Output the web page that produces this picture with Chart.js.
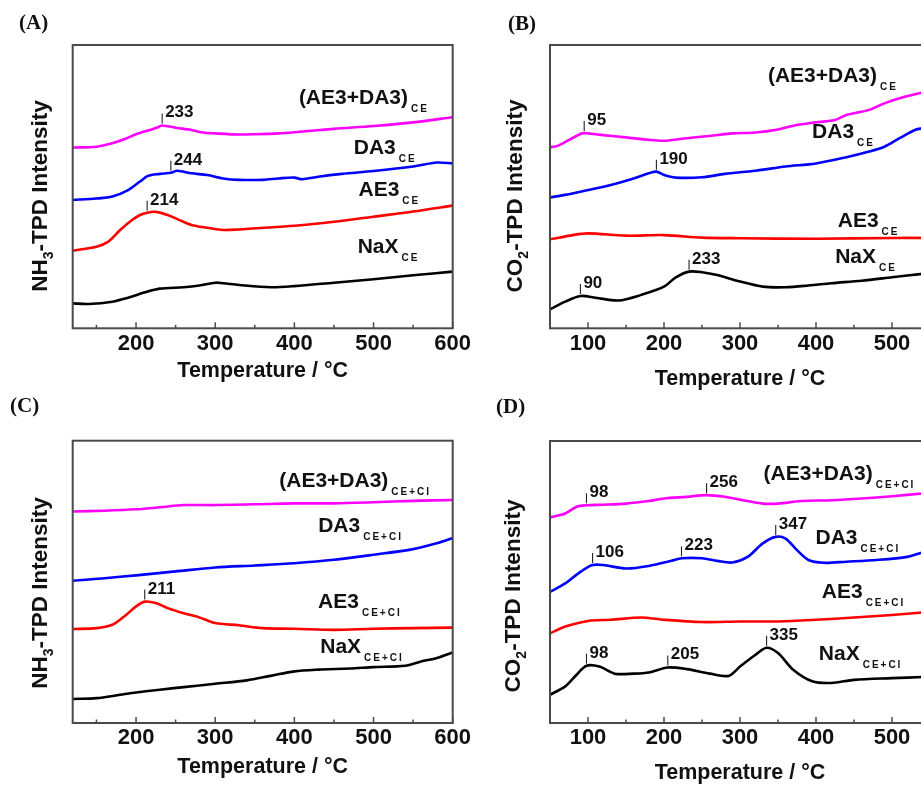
<!DOCTYPE html>
<html>
<head>
<meta charset="utf-8">
<script src="https://cdn.jsdelivr.net/npm/chart.js@4.4.1/dist/chart.umd.min.js"></script>
<style>
  html, body { margin: 0; padding: 0; background: #fff; }
  body { position: relative; width: 921px; height: 785px; overflow: hidden; }
  canvas { position: absolute; display: block; }
</style>
</head>
<body>
<canvas id="cA" width="490" height="390" style="left:0;top:0"></canvas>
<canvas id="cB" width="480" height="392" style="left:460px;top:0"></canvas>
<canvas id="cC" width="490" height="395" style="left:0;top:390px"></canvas>
<canvas id="cD" width="480" height="396" style="left:460px;top:390px"></canvas>
<script>
// sample names, top to bottom
const sampleNames = ['(AE3+DA3)', 'DA3', 'AE3', 'NaX'];
const seriesColors = ['#ff00ff', '#0000ff', '#ff0000', '#000000'];

// (A) NH3-TPD, CE samples
const aMixT = [120, 150, 170, 185, 200, 215, 228, 233, 250, 270, 285, 300, 330, 350, 380, 400, 450, 500, 550, 600];
const aMixY = [63.8, 64.1, 65.3, 66.7, 68.5, 69.8, 71.0, 71.6, 70.8, 70.0, 69.1, 68.8, 68.4, 68.5, 68.8, 69.2, 70.4, 71.4, 72.7, 74.5];
const aDaT = [120, 150, 170, 190, 205, 215, 230, 244, 252, 270, 290, 310, 330, 360, 380, 400, 410, 430, 460, 500, 550, 580, 600];
const aDaY = [45.3, 45.8, 46.5, 48.8, 51.8, 53.8, 54.5, 54.9, 55.6, 54.7, 54.1, 52.9, 52.4, 52.4, 52.9, 53.2, 52.6, 53.5, 54.5, 55.5, 57.1, 58.5, 58.2];
const aAeT = [120, 150, 165, 180, 195, 205, 214, 225, 240, 255, 270, 290, 310, 330, 350, 400, 450, 500, 550, 600];
const aAeY = [27.4, 28.8, 30.6, 34.7, 38.2, 40.0, 40.8, 41.1, 40.0, 38.2, 36.5, 35.5, 34.7, 34.9, 35.3, 36.2, 37.6, 39.4, 41.2, 43.3];
const aNaT = [120, 140, 170, 190, 210, 230, 260, 280, 300, 310, 330, 370, 400, 450, 500, 550, 600];
const aNaY = [8.8, 8.6, 9.4, 10.8, 12.6, 14.0, 14.5, 15.1, 16.1, 15.9, 15.3, 14.5, 14.9, 16.1, 17.3, 18.7, 20.0];

// (B) CO2-TPD, CE samples
const bMixT = [50, 60, 75, 90, 95, 100, 120, 150, 180, 200, 230, 260, 290, 320, 350, 370, 400, 425, 440, 470, 490, 510, 540, 550];
const bMixY = [63.9, 64.4, 66.5, 68.6, 68.9, 68.8, 68.2, 67.4, 66.5, 66.2, 67.1, 67.9, 68.8, 69.1, 70.2, 71.5, 72.7, 73.5, 75.3, 77.1, 79.4, 81.2, 83.2, 83.6];
const bDaT = [50, 70, 100, 130, 160, 180, 190, 200, 215, 250, 280, 320, 360, 400, 440, 470, 490, 510, 530, 540, 550];
const bDaY = [46.2, 47.1, 48.8, 50.6, 52.9, 54.7, 55.3, 54.1, 53.2, 53.3, 54.5, 55.6, 57.1, 58.2, 60.4, 62.4, 64.1, 67.1, 70.0, 70.6, 70.8];
const bAeT = [50, 80, 100, 150, 200, 250, 300, 400, 500, 550];
const bAeY = [31.4, 32.9, 33.5, 32.7, 32.9, 32.0, 31.8, 31.6, 31.9, 31.9];
const bNaT = [50, 70, 90, 110, 140, 170, 200, 215, 233, 250, 270, 300, 330, 360, 390, 420, 460, 500, 540, 550];
const bNaY = [6.7, 9.4, 11.4, 10.8, 9.8, 11.8, 14.7, 17.9, 20.0, 19.8, 18.8, 16.5, 14.7, 14.5, 15.1, 15.9, 16.8, 18.0, 19.2, 19.4];

// (C) NH3-TPD, CE+CI samples
const cMixT = [120, 160, 200, 230, 260, 300, 350, 400, 450, 500, 550, 600];
const cMixY = [74.9, 75.2, 75.7, 76.4, 77.2, 77.2, 77.5, 77.8, 77.8, 78.2, 78.7, 79.0];
const cDaT = [120, 160, 200, 250, 300, 350, 400, 450, 500, 550, 580, 600];
const cDaY = [50.4, 51.3, 52.3, 53.7, 55.1, 55.8, 56.6, 57.8, 59.6, 61.6, 63.7, 65.5];
const cAeT = [120, 150, 170, 185, 200, 211, 225, 240, 260, 280, 300, 330, 360, 400, 450, 500, 550, 600];
const cAeY = [33.3, 33.6, 34.8, 37.7, 41.3, 43.0, 42.5, 40.7, 38.9, 37.4, 35.4, 34.6, 33.6, 33.4, 33.0, 33.4, 33.6, 33.8];
const cNaT = [120, 150, 180, 200, 230, 260, 300, 340, 370, 400, 430, 470, 500, 540, 560, 580, 600];
const cNaY = [8.5, 8.8, 10.0, 10.8, 11.8, 12.7, 13.9, 15.1, 16.7, 18.3, 18.9, 19.3, 19.8, 20.3, 21.8, 23.0, 25.0];

// (D) CO2-TPD, CE+CI samples
const dMixT = [50, 70, 85, 98, 120, 150, 180, 200, 230, 256, 280, 310, 330, 350, 380, 420, 460, 500, 540, 550];
const dMixY = [72.9, 74.3, 76.7, 77.2, 77.4, 77.8, 78.7, 79.6, 80.2, 80.8, 80.2, 78.7, 77.8, 77.8, 78.7, 79.0, 79.6, 80.4, 81.4, 81.6];
const dDaT = [50, 70, 90, 106, 120, 150, 180, 210, 223, 250, 270, 290, 310, 330, 347, 360, 375, 390, 410, 440, 480, 520, 540, 550];
const dDaY = [46.5, 49.5, 53.6, 56.0, 56.0, 54.8, 55.7, 57.5, 58.4, 58.4, 57.5, 56.9, 58.9, 63.7, 66.0, 65.4, 61.3, 57.8, 56.8, 57.2, 57.8, 58.9, 60.5, 61.0];
const dAeT = [50, 70, 100, 130, 170, 200, 250, 300, 350, 400, 450, 500, 540, 550];
const dAeY = [31.8, 34.2, 36.2, 36.6, 37.4, 36.6, 35.8, 36.0, 36.0, 36.6, 37.4, 38.3, 39.2, 39.4];
const dNaT = [50, 70, 85, 98, 115, 135, 160, 180, 205, 230, 260, 285, 300, 320, 335, 350, 370, 395, 420, 450, 500, 540, 550];
const dNaY = [10.0, 13.0, 17.1, 20.3, 20.0, 17.5, 17.5, 17.9, 19.7, 19.1, 17.5, 16.7, 20.0, 24.1, 26.7, 24.8, 18.9, 14.8, 14.2, 15.3, 15.9, 16.3, 16.4];

// peak maxima marked on the curves: [series index, temperature]
const peaksA = [[0, 233], [1, 244], [2, 214]];
const peaksB = [[0, 95], [1, 190], [3, 233], [3, 90]];
const peaksC = [[2, 211]];
const peaksD = [[0, 98], [0, 256], [1, 106], [1, 223], [1, 347], [3, 98], [3, 205], [3, 335]];

// x-axis ticks (majors every 100 are labelled)
const ticksNH3 = [150, 200, 250, 300, 350, 400, 450, 500, 550, 600];
const ticksCO2 = [100, 150, 200, 250, 300, 350, 400, 450, 500, 550];

Chart.defaults.font.family = '"Liberation Sans", Arial, sans-serif';
Chart.defaults.color = '#111';

const SANS = '"Liberation Sans", Arial, sans-serif';

// text with a lowered subscript part
function drawWithSub(ctx, main, sub, x, y, size, subSize, subDrop, spacing) {
  ctx.font = 'bold ' + size + 'px ' + SANS;
  ctx.letterSpacing = '0px';
  ctx.fillText(main, x, y);
  const w = ctx.measureText(main).width;
  ctx.font = 'bold ' + subSize + 'px ' + SANS;
  ctx.letterSpacing = spacing + 'px';
  ctx.fillText(sub, x + w + 3, y + subDrop);
  ctx.letterSpacing = '0px';
}

const panelDecor = {
  id: 'panelDecor',
  afterDatasetsDraw(chart, args, o) {
    const { ctx, chartArea: a, scales: { x, y } } = chart;
    ctx.save();

    // frame
    ctx.strokeStyle = '#4a4a4a';
    ctx.lineWidth = 2;
    ctx.strokeRect(a.left, a.top, a.right - a.left, a.bottom - a.top);

    // inward ticks on the temperature axis
    ctx.lineWidth = 1.5;
    x.ticks.forEach(t => {
      const px = x.getPixelForValue(t.value);
      const len = t.value % 100 === 0 ? 6 : 3.5;
      ctx.beginPath();
      ctx.moveTo(px, a.bottom);
      ctx.lineTo(px, a.bottom - len);
      ctx.stroke();
    });

    ctx.fillStyle = '#111';
    ctx.textAlign = 'left';
    ctx.textBaseline = 'alphabetic';

    // curve names
    o.spots.forEach((s, i) => {
      drawWithSub(ctx, sampleNames[i], o.sub, x.getPixelForValue(s[0]), y.getPixelForValue(s[1]), 21, 10, 8, 2);
    });

    // peak temperatures
    ctx.strokeStyle = '#222';
    ctx.lineWidth = 1.1;
    o.peaks.forEach(([si, t]) => {
      const pts = chart.data.datasets[si].data;
      const p = pts.reduce((b, q) => Math.abs(q.x - t) < Math.abs(b.x - t) ? q : b);
      const px = x.getPixelForValue(t);
      const py = y.getPixelForValue(p.y);
      ctx.beginPath();
      ctx.moveTo(px, py - 2);
      ctx.lineTo(px, py - 12);
      ctx.stroke();
      ctx.font = 'bold 17px ' + SANS;
      ctx.fillText(String(t), px + 3, py - 8);
    });

    // rotated intensity title with subscript
    ctx.save();
    ctx.translate(o.yTitle[0], o.yTitle[1]);
    ctx.rotate(-Math.PI / 2);
    const parts = [[o.gas[0], false], [o.gas[1], true], ['-TPD Intensity', false]];
    const fontFor = sub => 'bold ' + (sub ? 14 : 22.5) + 'px ' + SANS;
    let total = 0;
    parts.forEach(([s, sub]) => {
      ctx.font = fontFor(sub);
      total += ctx.measureText(s).width;
    });
    let cx = -total / 2;
    parts.forEach(([s, sub]) => {
      ctx.font = fontFor(sub);
      ctx.fillText(s, cx, sub ? 6 : 0);
      cx += ctx.measureText(s).width;
    });
    ctx.restore();

    // panel letter
    ctx.font = 'bold 21px "Liberation Serif", "Times New Roman", serif';
    ctx.fillText(o.tag[0], o.tag[1], o.tag[2]);

    ctx.restore();
  }
};

function makePanel(id, cfg) {
  const series = [
    [cfg.t[0], cfg.v[0]], [cfg.t[1], cfg.v[1]], [cfg.t[2], cfg.v[2]], [cfg.t[3], cfg.v[3]]
  ];
  return new Chart(document.getElementById(id), {
    type: 'line',
    data: {
      datasets: series.map(([ts, vs], i) => ({
        data: ts.map((t, k) => ({ x: t, y: vs[k] })),
        borderColor: seriesColors[i],
        borderWidth: 2.6,
        pointRadius: 0,
        tension: 0.3,
        fill: false
      }))
    },
    options: {
      responsive: false,
      animation: false,
      events: [],
      layout: { padding: { left: 0, right: cfg.padRight, top: cfg.padTop, bottom: 0 } },
      plugins: {
        legend: { display: false },
        tooltip: { enabled: false },
        panelDecor: cfg.decor
      },
      scales: {
        x: {
          type: 'linear',
          min: cfg.min,
          max: cfg.max,
          grid: { display: false, drawTicks: false },
          border: { display: false },
          afterBuildTicks: s => { s.ticks = cfg.ticks.map(v => ({ value: v })); },
          afterFit: s => { s.height = cfg.axisH; },
          ticks: {
            autoSkip: false,
            maxRotation: 0,
            padding: 2,
            color: '#111',
            font: { size: 22, weight: 'bold' },
            callback: v => (v % 100 === 0 ? String(v) : '')
          },
          title: {
            display: true,
            text: 'Temperature / \u00B0C',
            color: '#111',
            font: { size: 21.5, weight: 'bold' },
            padding: { top: 0, bottom: cfg.titlePad }
          }
        },
        y: {
          min: 0,
          max: 100,
          grid: { display: false, drawTicks: false },
          border: { display: false },
          ticks: { display: false },
          afterFit: s => { s.width = cfg.left; }
        }
      }
    },
    plugins: [panelDecor]
  });
}

makePanel('cA', {
  t: [aMixT, aDaT, aAeT, aNaT], v: [aMixY, aDaY, aAeY, aNaY],
  min: 120, max: 600, ticks: ticksNH3,
  left: 72.7, padRight: 37.3, padTop: 45, axisH: 61.7, titlePad: 6,
  decor: {
    sub: 'CE', gas: ['NH', '3'], peaks: peaksA,
    spots: [[405.7, 79.2], [475, 61.5], [481, 46.7], [480, 26.6]],
    yTitle: [47, 196], tag: ['(A)', 19, 29]
  }
});

makePanel('cB', {
  t: [bMixT, bDaT, bAeT, bNaT], v: [bMixY, bDaY, bAeY, bNaY],
  min: 50, max: 550, ticks: ticksCO2,
  left: 90, padRight: 10, padTop: 45, axisH: 63.7, titlePad: 0,
  decor: {
    sub: 'CE', gas: ['CO', '2'], peaks: peaksB,
    spots: [[336.7, 87.0], [394.8, 67.1], [428.6, 35.9], [425.2, 22.9]],
    yTitle: [61.7, 196], tag: ['(B)', 48, 30]
  }
});

makePanel('cC', {
  t: [cMixT, cDaT, cAeT, cNaT], v: [cMixY, cDaY, cAeY, cNaY],
  min: 120, max: 600, ticks: ticksNH3,
  left: 72.7, padRight: 37.3, padTop: 50.7, axisH: 62, titlePad: 5,
  decor: {
    sub: 'CE+CI', gas: ['NH', '3'], peaks: peaksC,
    spots: [[380.9, 83.7], [430.1, 67.6], [430, 40.6], [432.7, 24.7]],
    yTitle: [47, 203], tag: ['(C)', 10, 22]
  }
});

makePanel('cD', {
  t: [dMixT, dDaT, dAeT, dNaT], v: [dMixY, dDaY, dAeY, dNaY],
  min: 50, max: 550, ticks: ticksCO2,
  left: 90, padRight: 10, padTop: 51, axisH: 63, titlePad: 0,
  decor: {
    sub: 'CE+CI', gas: ['CO', '2'], peaks: peaksD,
    spots: [[331, 86.3], [399.3, 63.5], [407.6, 44.2], [403.7, 22.3]],
    yTitle: [60, 206], tag: ['(D)', 36, 23]
  }
});
</script>
</body>
</html>
